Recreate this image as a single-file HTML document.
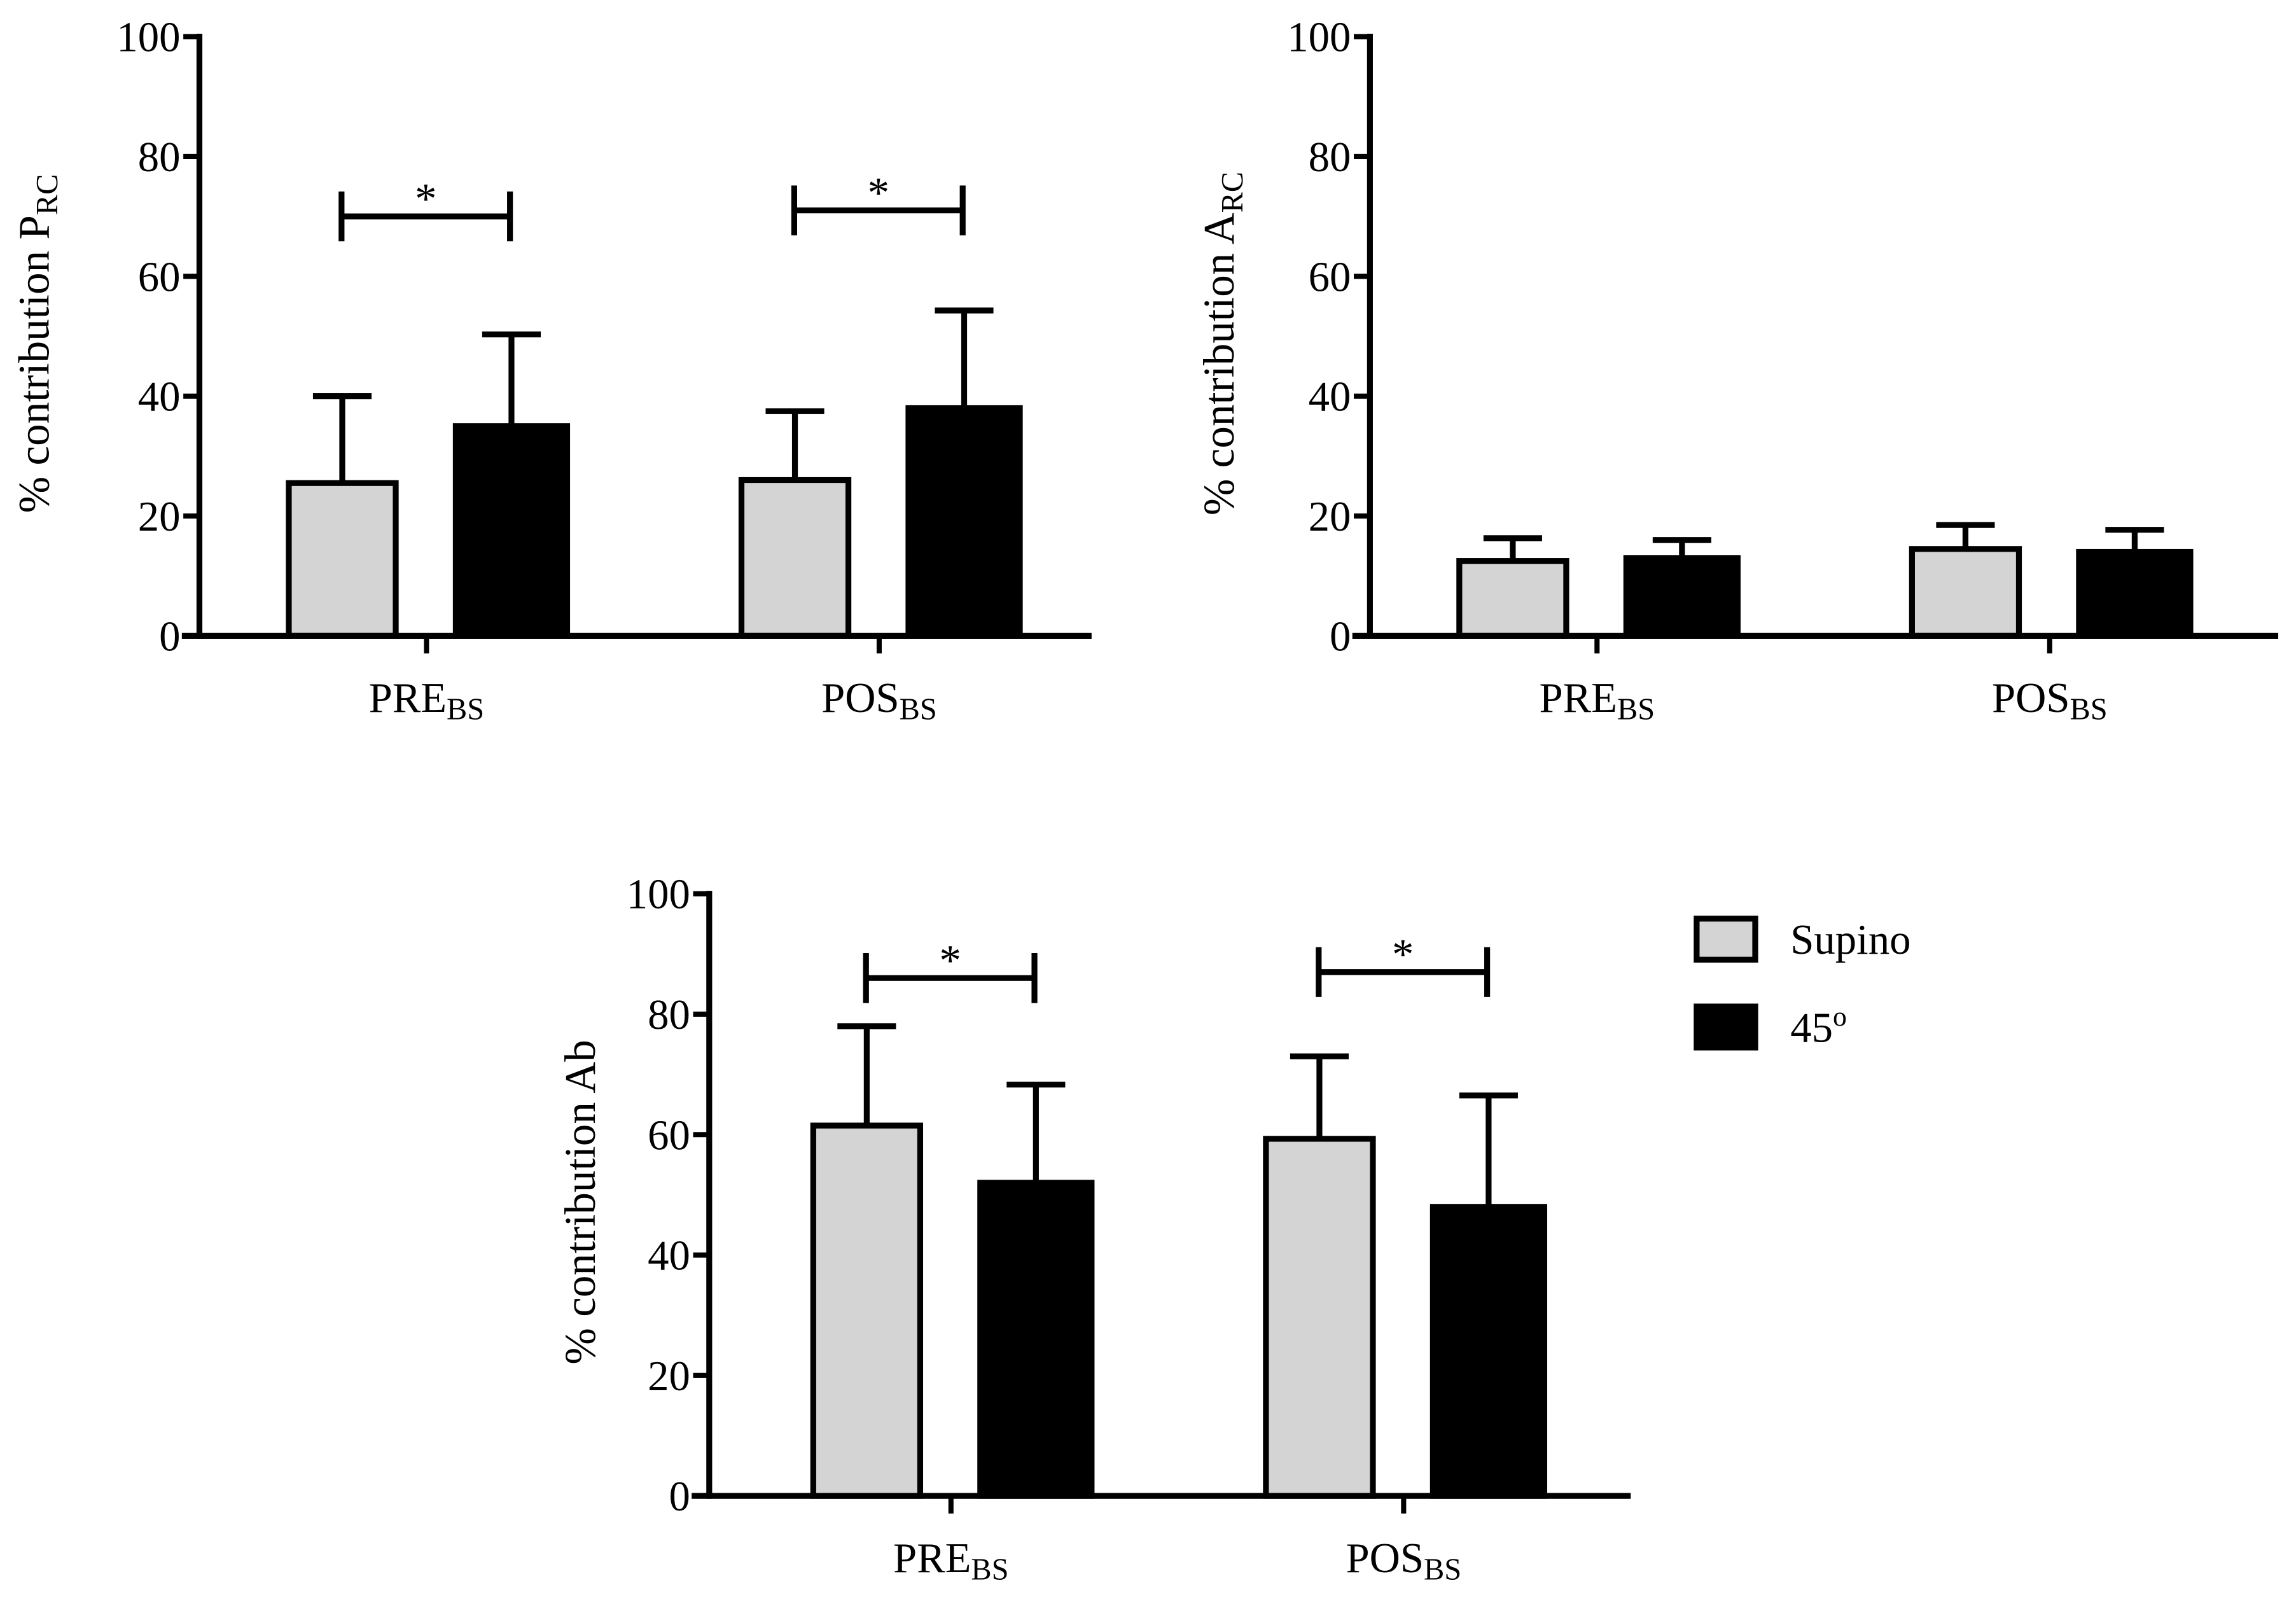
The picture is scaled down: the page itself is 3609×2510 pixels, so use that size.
<!DOCTYPE html>
<html><head><meta charset="utf-8"><style>
html,body{margin:0;padding:0;background:#fff}
svg{display:block}
text{font-family:"Liberation Serif",serif;fill:#000}
</style></head><body>
<svg id="fig" width="3609" height="2510" viewBox="0 0 1567 1090" xmlns="http://www.w3.org/2000/svg"></svg>
<script>
const categories = ["PRE", "POS"];
const seriesNames = ["Supino", "45º"];
const prcMeans = [[25.5, 26], [35, 38]];
const prcErr = [[40, 37.5], [50.3, 54.3]];
const arcMeans = [[12.5, 14.5], [13, 14]];
const arcErr = [[16.3, 18.5], [16, 17.7]];
const abMeans = [[61.5, 59.3], [52, 48]];
const abErr = [[78, 73], [68.3, 66.5]];
const yTicks = [0, 20, 40, 60, 80, 100];
const prcSig = [70, 71];
const abSig = [86, 87];

const NS = "http://www.w3.org/2000/svg";
const svg = document.getElementById("fig");
function el(tag, attrs, parent) {
  const e = document.createElementNS(NS, tag);
  for (const k in attrs) e.setAttribute(k, attrs[k]);
  (parent || svg).appendChild(e);
  return e;
}
function chart(cfg) {
  const g = el("g", {});
  
  
  const y = v => cfg.y0 - (cfg.y0 - cfg.y100) * v / 100;
  const ya = el("line", {x1: cfg.ax, y1: cfg.y100 - 2, x2: cfg.ax, y2: cfg.y0 + 2, stroke: "#000", "stroke-width": 4}, g);
  
  
  yTicks.forEach(t => {
    const tk = el("line", {x1: cfg.ax - 11, y1: y(t), x2: cfg.ax, y2: y(t), stroke: "#000", "stroke-width": 3.5}, g);
    
    
    const tl = el("text", {x: cfg.ax - 13, y: y(t) + 10, "text-anchor": "end", "font-size": 29}, g);
    tl.textContent = t;
    
    
  });
  const cy = (cfg.y0 + cfg.y100) / 2 + 5;
  const yt = el("text", {x: 0, y: 0, "text-anchor": "middle", "font-size": 30, transform: `translate(${cfg.titleX},${cy}) rotate(-90)`}, g);
  
  
  yt.appendChild(document.createTextNode(cfg.title));
  if (cfg.sub) {
    const ts = el("tspan", {"font-size": 21, dy: 6}, yt);
    ts.textContent = cfg.sub;
  }
  cfg.means.forEach((ser, si) => {
    ser.forEach((v, ci) => {
      const cx = cfg.cats[ci];
      const left = si === 0 ? cx - 94 : cx + 20;
      const w = si === 0 ? 73 : 76;
      const top = y(cfg.err[si][ci]);
      const mx = left + w / 2;
      const eb = el("path", {d: `M${mx},${y(v)} V${top} M${mx - 20},${top} H${mx + 20}`, stroke: "#000", "stroke-width": 4, fill: "none"}, g);
      
      
      const r = el("rect", {x: left, y: y(v), width: w, height: cfg.y0 - y(v), fill: si === 0 ? "#d4d4d4" : "#000", stroke: "#000", "stroke-width": 4}, g);
      
      
    });
  });
  const xa = el("line", {x1: cfg.ax - 12, y1: cfg.y0, x2: cfg.xEnd, y2: cfg.y0, stroke: "#000", "stroke-width": 4}, g);
  
  
  cfg.cats.forEach((cx, ci) => {
    const tk = el("line", {x1: cx, y1: cfg.y0, x2: cx, y2: cfg.y0 + 12, stroke: "#000", "stroke-width": 3.5}, g);
    
    
    const tl = el("text", {x: cx, y: cfg.y0 + 52, "text-anchor": "middle", "font-size": 29}, g);
    
    
    tl.appendChild(document.createTextNode(categories[ci]));
    const s = el("tspan", {"font-size": 21, dy: 5}, tl);
    s.textContent = "BS";
  });
  if (cfg.sig) {
    cfg.sig.forEach((v, ci) => {
      const cx = cfg.cats[ci];
      const x1 = cx - 58, x2 = cx + 57, yy = y(v);
      const b = el("path", {d: `M${x1},${yy - 17} V${yy + 17} M${x1},${yy} H${x2} M${x2},${yy - 17} V${yy + 17}`, stroke: "#000", "stroke-width": 4, fill: "none"}, g);
      
      
      const st = el("text", {x: (x1 + x2) / 2, y: yy - 2, "text-anchor": "middle", "font-size": 30}, g);
      st.textContent = "*";
      
      
    });
  }
}
chart({name: "chart-prc", ax: 136, y100: 25, y0: 434, xEnd: 745, cats: [291, 600], means: prcMeans, err: prcErr, sig: prcSig, title: "% contribution P", sub: "RC", titleX: 33});
chart({name: "chart-arc", ax: 935, y100: 25, y0: 434, xEnd: 1555, cats: [1090, 1399], means: arcMeans, err: arcErr, sig: null, title: "% contribution A", sub: "RC", titleX: 842});
chart({name: "chart-ab", ax: 484, y100: 610, y0: 1021, xEnd: 1113, cats: [649, 958], means: abMeans, err: abErr, sig: abSig, title: "% contribution Ab", sub: null, titleX: 406});

const lg = el("g", {});


seriesNames.forEach((n, i) => {
  const yy = 627 + i * 60;
  const r = el("rect", {x: 1158, y: yy, width: 40, height: 28, fill: i === 0 ? "#d4d4d4" : "#000", stroke: "#000", "stroke-width": 4}, lg);
  
  
  const t = el("text", {x: 1222, y: yy + 24, "font-size": 29}, lg);
  
  
  if (i === 0) t.textContent = n;
  else {
    t.appendChild(document.createTextNode("45"));
    const s = el("tspan", {"font-size": 19, dy: -11}, t);
    s.textContent = "o";
  }
});
</script>
</body></html>
